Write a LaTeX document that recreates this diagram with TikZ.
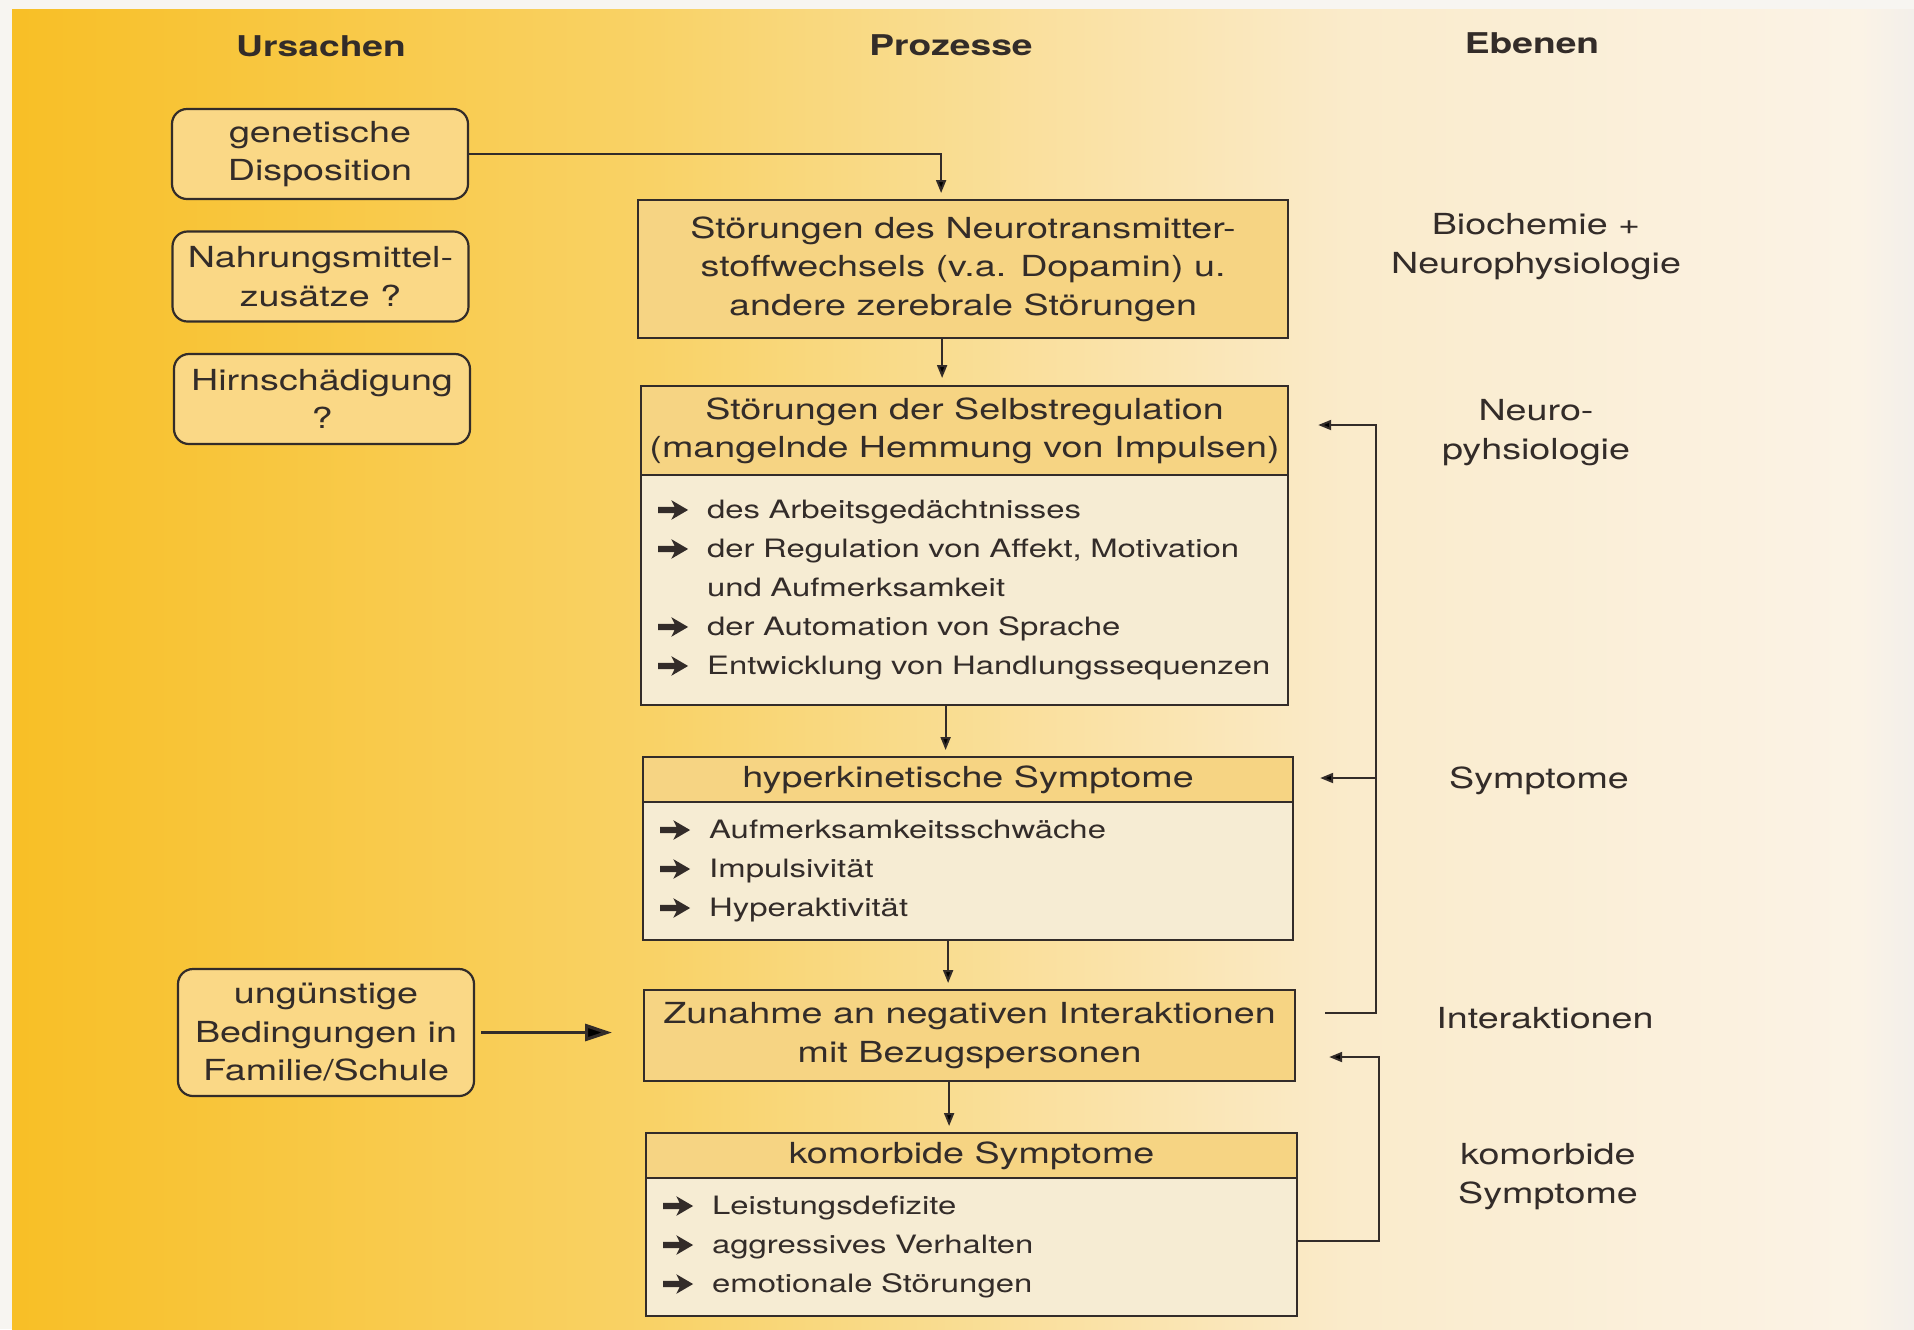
\documentclass[tikz,border=0pt]{standalone}
\usepackage{fontspec}
\setmainfont{TeX Gyre Heros}[FakeStretch=1.3]
\usetikzlibrary{arrows.meta,calc}

\definecolor{ink}{HTML}{332C29}
\definecolor{bgA}{HTML}{F8BF26}
\definecolor{bgB}{HTML}{F9D266}
\definecolor{bgC}{HTML}{FAEBCB}
\definecolor{bgD}{HTML}{FBF3E6}
\definecolor{bgE}{HTML}{F3EFEA}
\definecolor{margin}{HTML}{F7F5F1}
\definecolor{titlefill}{HTML}{F6D483}
\definecolor{bodyfill}{HTML}{F6ECD3}
\definecolor{causefill}{HTML}{FAD886}

\newcommand{\mainsz}{\fontsize{14.5pt}{19.25pt}\selectfont}
\newcommand{\itemsz}{\fontsize{12.65pt}{19.5pt}\selectfont}
\newcommand{\bltglyph}{\tikz[baseline={(0pt,-4.3pt)}]\fill[ink] (0pt,-1.6pt) -- (8.2pt,-1.6pt) -- (6.6pt,-4.9pt) -- (15pt,0pt) -- (6.6pt,4.9pt) -- (8.2pt,1.6pt) -- (0pt,1.6pt) -- cycle;}
\newcommand{\arritem}[1]{\mbox{\makebox[24.5pt][l]{\bltglyph}#1}}
\newcommand{\arrcont}[1]{\mbox{\hspace*{24.5pt}#1}}

\begin{document}
\begin{tikzpicture}[x=0.5pt,y=-0.5pt,
  ln/.style={draw=ink, line width=1pt},
  arr/.style={ln, -{Triangle[length=6.5pt,width=5pt]}},
  bigarr/.style={draw=ink, line width=1.6pt, -{Triangle[length=13.5pt,width=8.5pt]}},
  hdr/.style={font=\bfseries\fontsize{14.3pt}{19pt}\selectfont, text=ink},
  cause/.style={draw=ink, line width=1.1pt, fill=causefill, rounded corners=7.5pt,
    align=center, font=\mainsz, text=ink, inner sep=0pt, minimum width=148pt, minimum height=45pt},
  pbox/.style={draw=ink, line width=1.1pt, fill=titlefill, align=center, font=\mainsz,
    text=ink, inner sep=0pt, anchor=north west},
  body/.style={draw=ink, line width=1.1pt, fill=bodyfill, align=left, font=\itemsz,
    text=ink, inner xsep=8.5pt, inner ysep=0pt, anchor=north west},
  lvl/.style={align=center, font=\mainsz, text=ink}
]
\useasboundingbox (0,0) rectangle (1914,1329);
% background
\fill[margin] (0,0) rectangle (1914,1329);
\shade[left color=bgA, right color=bgB] (12,9) rectangle (650,1329);
\shade[left color=bgB, right color=bgC] (650,9) rectangle (1350,1329);
\shade[left color=bgC, right color=bgD] (1350,9) rectangle (1860,1329);
\shade[left color=bgD, right color=bgE] (1860,9) rectangle (1914,1329);

% headers
\node[hdr] (hU) at (321,46) {Ursachen};
\node[hdr] (hP) at (951,45) {Prozesse};
\node[hdr] (hE) at (1532,43) {Ebenen};

% causes
\node[cause] (gen)  at (320,154)   {genetische\\Disposition};
\node[cause] (nahr) at (320.5,276.5) {Nahrungsmittel-\\zusätze ?};
\node[cause] (hirn) at (322,399)   {Hirnschädigung\\?};
\node[cause, minimum height=63.5pt] (ung) at (326,1032.5) {ungünstige\\Bedingungen in\\Familie/Schule};

% process boxes
\node[pbox, minimum width=325pt, minimum height=69pt] (B1) at (637,199)
  {Störungen des Neurotransmitter-\\stoffwechsels (v.a. Dopamin) u.\\andere zerebrale Störungen};

\node[pbox, minimum width=323.5pt, minimum height=44.5pt] (B2t) at (640,385)
  {Störungen der Selbstregulation\\(mangelnde Hemmung von Impulsen)};
\node[body, text width=306.5pt, minimum height=115pt] (B2b) at (640,474)
  {\arritem{des Arbeitsgedächtnisses}\\
   \arritem{der Regulation von Affekt, Motivation}\\
   \arrcont{und Aufmerksamkeit}\\
   \arritem{der Automation von Sprache}\\
   \arritem{Entwicklung von Handlungssequenzen}};

\node[pbox, minimum width=325pt, minimum height=22.5pt] (B3t) at (642,756)
  {hyperkinetische Symptome};
\node[body, text width=308pt, minimum height=69pt] (B3b) at (642,801)
  {\arritem{Aufmerksamkeitsschwäche}\\
   \arritem{Impulsivität}\\
   \arritem{Hyperaktivität}};

\node[pbox, minimum width=325.5pt, minimum height=45.5pt] (B4) at (643,989)
  {Zunahme an negativen Interaktionen\\mit Bezugspersonen};

\node[pbox, minimum width=325.5pt, minimum height=22.5pt] (B5t) at (645,1132)
  {komorbide Symptome};
\node[body, text width=308.5pt, minimum height=69pt] (B5b) at (645,1177)
  {\arritem{Leistungsdefizite}\\
   \arritem{aggressives Verhalten}\\
   \arritem{emotionale Störungen}};

% levels
\node[lvl] (e1) at (1536,246.5) {Biochemie +\\Neurophysiologie};
\node[lvl] (e2) at (1536,432.5) {Neuro-\\pyhsiologie};
\node[lvl] (e3) at (1539,780.5) {Symptome};
\node[lvl] (e4) at (1545,1018) {Interaktionen};
\node[lvl] (e5) at (1548,1176.5) {komorbide\\Symptome};

% connectors
\draw[arr, shorten >=3pt] (gen.east) -| ([xshift=-11pt]B1.north);
\draw[arr, shorten >=3.5pt] ([xshift=-10.5pt]B1.south) -- ([xshift=-10.5pt]B1.south |- B2t.north);
\draw[arr, shorten >=3pt] ([xshift=-9.5pt]B2b.south) -- ([xshift=-9.5pt]B2b.south |- B3t.north);
\draw[arr, shorten >=3pt] ([xshift=-10pt]B3b.south) -- ([xshift=-10pt]B3b.south |- B4.north);
\draw[arr, shorten >=3pt] ([xshift=-10.25pt]B4.south) -- ([xshift=-10.25pt]B4.south |- B5t.north);
\draw[bigarr, shorten <=3pt, shorten >=15.5pt] (ung.east) -- (ung.east -| B4.west);

\coordinate (fb1s) at ([xshift=14.5pt,yshift=11.25pt]B4.east);
\coordinate (fb1c) at (1376,425);
\coordinate (fb1m) at (1376,778);
\draw[arr, shorten >=14.5pt] (fb1s) -| (fb1c) -- (fb1c -| B2t.east);
\draw[arr, shorten >=13pt] (fb1m) -- (fb1m -| B3t.east);

\coordinate (fb2s) at ([yshift=3pt]B5b.east);
\coordinate (fb2c) at (1379,1057);
\draw[arr, shorten >=16.5pt] (fb2s) -| (fb2c) -- (fb2c -| B4.east);
\end{tikzpicture}
\end{document}
